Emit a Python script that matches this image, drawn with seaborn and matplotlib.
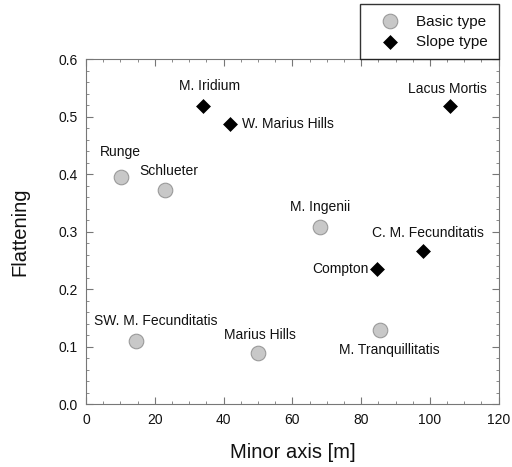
import numpy as np
import pandas as pd
import seaborn as sns
import matplotlib
matplotlib.use('Agg')
import matplotlib.pyplot as plt
from matplotlib.ticker import MultipleLocator

sns.set_style('ticks')
plt.rcParams['font.family'] = ['Liberation Sans', 'DejaVu Sans']

# data
basic_names = ['Runge', 'Schlueter', 'M. Ingenii', 'SW. M. Fecunditatis', 'Marius Hills', 'M. Tranquillitatis']
basic_x = [10.1, 23.0, 68.0, 14.5, 49.9, 85.5]
basic_y = [0.396, 0.372, 0.309, 0.111, 0.089, 0.130]

slope_names = ['M. Iridium', 'W. Marius Hills', 'Lacus Mortis', 'C. M. Fecunditatis', 'Compton']
slope_x = [34.1, 41.9, 105.8, 97.9, 84.7]
slope_y = [0.518, 0.487, 0.519, 0.267, 0.235]

# label offsets in pixels (dx, dy) and alignment
basic_offsets = [(0, 25, 'center'), (4, 19, 'center'), (0, 20, 'center'),
                 (20, 20, 'center'), (2, 18, 'center'), (9, -20, 'center')]
slope_offsets = [(6, 20, 'center'), (12, 0, 'left'), (-2, 17, 'center'),
                 (5, 18, 'center'), (-9, 0, 'right')]

basic_df = pd.DataFrame({'x': basic_x, 'y': basic_y})
slope_df = pd.DataFrame({'x': slope_x, 'y': slope_y})

fig = plt.figure(figsize=(5.12, 4.67), dpi=100)
ax = fig.add_axes([0.168, 0.134, 0.806, 0.739])

sns.scatterplot(data=basic_df, x='x', y='y', ax=ax, marker='o', s=110,
                color='#c8c8c8', edgecolor='#9a9a9a', linewidth=0.8, label='Basic type', zorder=3)
sns.scatterplot(data=slope_df, x='x', y='y', ax=ax, marker='D', s=50,
                color='black', edgecolor='black', linewidth=0.5, label='Slope type', zorder=3)

# point labels
for names, xs, ys, offs in [(basic_names, basic_x, basic_y, basic_offsets),
                            (slope_names, slope_x, slope_y, slope_offsets)]:
    for name, x, y, (dx, dy, ha) in zip(names, xs, ys, offs):
        ax.annotate(name, (x, y), xytext=(dx, dy), textcoords='offset pixels',
                    ha=ha, va='center', fontsize=10, color='#111111')

ax.set_xlim(0, 120)
ax.set_ylim(0, 0.6)
ax.xaxis.set_major_locator(MultipleLocator(20))
ax.xaxis.set_minor_locator(MultipleLocator(5))
ax.yaxis.set_major_locator(MultipleLocator(0.1))
ax.yaxis.set_minor_locator(MultipleLocator(0.02))
ax.yaxis.set_major_formatter(plt.FormatStrFormatter('%.1f'))
ax.tick_params(which='both', direction='in', top=True, right=True, color='#777777',
               labelsize=10, labelcolor='#111111')
ax.tick_params(which='major', length=5, width=0.8, pad=6)
ax.tick_params(which='minor', length=2.5, width=0.6)
for sp in ax.spines.values():
    sp.set_color('#777777')
    sp.set_linewidth(0.8)

ax.set_xlabel('Minor axis [m]', fontsize=14.5, labelpad=12, color='#111111')
ax.set_ylabel('Flattening', fontsize=14.5, labelpad=21, color='#111111')

leg = ax.legend(loc='lower right', bbox_to_anchor=(1.0, 1.0), borderaxespad=0,
                fontsize=11, frameon=True, fancybox=False, handlelength=2.5,
                handletextpad=0.45, borderpad=0.7, labelspacing=0.4)
leg.get_frame().set_edgecolor('black')
leg.get_frame().set_linewidth(1.0)
for t in leg.get_texts():
    t.set_color('#111111')

fig.savefig('out.png', dpi=100)
